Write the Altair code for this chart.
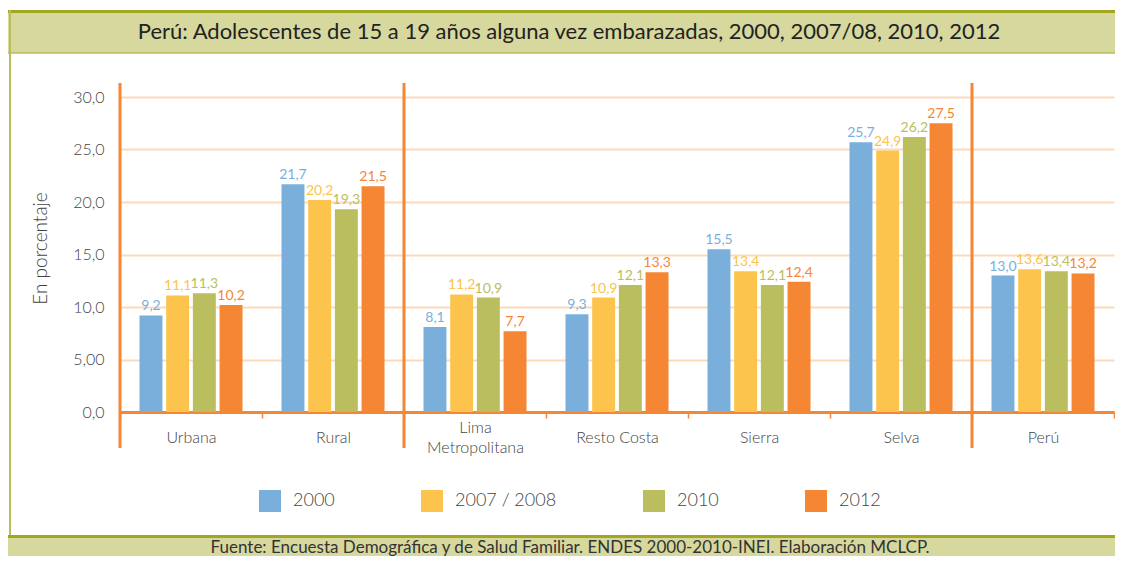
import altair as alt
import pandas as pd

regions = ["Urbana", "Rural", "Lima Metropolitana", "Resto Costa", "Sierra", "Selva", "Perú"]
years = ["2000", "2007 / 2008", "2010", "2012"]
v2000 = [9.2, 21.7, 8.1, 9.3, 15.5, 25.7, 13.0]
v2007 = [11.1, 20.2, 11.2, 10.9, 13.4, 24.9, 13.6]
v2010 = [11.3, 19.3, 10.9, 12.1, 12.1, 26.2, 13.4]
v2012 = [10.2, 21.5, 7.7, 13.3, 12.4, 27.5, 13.2]
colors = ["#7aafdc", "#fcc44d", "#bbbe5f", "#f58634"]
separators = ["Urbana", "Lima Metropolitana", "Perú"]
y_ticks = [0, 5, 10, 15, 20, 25, 30]
title_text = "Perú: Adolescentes de 15 a 19 años alguna vez embarazadas, 2000, 2007/08, 2010, 2012"
source_text = "Fuente: Encuesta Demográfica y de Salud Familiar. ENDES 2000-2010-INEI. Elaboración MCLCP."

rows = []
for yr, vals in zip(years, [v2000, v2007, v2010, v2012]):
    for r, v in zip(regions, vals):
        rows.append({"region": r, "year": yr, "value": v,
                     "label": f"{v:.1f}".replace(".", ",")})
df = pd.DataFrame(rows)

ORANGE = "#f58634"
OLIVE_DARK = "#a3a71f"
OLIVE_FILL = "#d6d89e"
TXT = "#444444"

xscale = alt.Scale(domain=regions, paddingInner=0, paddingOuter=0)
yscale = alt.Scale(domain=[0, 30], nice=False)
cscale = alt.Scale(domain=years, range=colors)
offscale = alt.Scale(paddingInner=0.14, paddingOuter=0.73)

x_axis = alt.Axis(
    title=None, tickBand="extent", ticks=True, tickColor=ORANGE, tickWidth=1.5, tickSize=6,
    domainColor=ORANGE, domainWidth=3, labelAngle=0, labelFontSize=16, labelColor=TXT,
    labelFontWeight=300, labelBaseline="middle", labelLineHeight=20,
    labelPadding=alt.condition("datum.value == 'Lima Metropolitana'", alt.value(9), alt.value(19)),
    labelExpr="datum.value == 'Lima Metropolitana' ? ['Lima', 'Metropolitana'] : datum.value",
)
y_axis = alt.Axis(
    values=y_ticks, grid=True, gridColor="#fdd9bb", gridWidth=2, domain=False, ticks=False,
    labelExpr="datum.value == 5 ? '5,00' : replace(format(datum.value, '.1f'), '.', ',')",
    labelPadding=16, labelFontSize=16, labelColor=TXT, labelFontWeight=300,
    title="En porcentaje", titleFontSize=19, titleFontWeight=300, titleColor=TXT,
    titleAngle=-90, titleAlign="center", titleBaseline="middle", titleX=-80, titleY=151,
)
legend = alt.Legend(
    orient="none", legendX=139, legendY=393, direction="horizontal", title=None,
    symbolType="square", symbolSize=484, symbolStrokeWidth=0, symbolOpacity=1,
    labelFontSize=18, labelColor=TXT, labelFontWeight=300, labelOffset=12,
    columnPadding=86, padding=0,
)

base = alt.Chart(df)
bars = base.mark_bar().encode(
    x=alt.X("region:N", scale=xscale, axis=x_axis),
    xOffset=alt.XOffset("year:N", scale=offscale, sort=years),
    y=alt.Y("value:Q", scale=yscale, axis=y_axis),
    color=alt.Color("year:N", scale=cscale, legend=legend),
)
labels = base.mark_text(baseline="bottom", dy=-2, fontSize=14, fontWeight="normal").encode(
    x=alt.X("region:N", scale=xscale, axis=x_axis),
    xOffset=alt.XOffset("year:N", scale=offscale, sort=years),
    y=alt.Y("value:Q", scale=yscale, axis=y_axis),
    text="label:N",
    color=alt.Color("year:N", scale=cscale, legend=legend),
)
seps = alt.Chart(pd.DataFrame({"region": separators})).mark_rule(
    color=ORANGE, strokeWidth=3).encode(
    x=alt.X("region:N", scale=xscale, bandPosition=0, axis=x_axis),
    y=alt.value(-14), y2=alt.value(351),
)

one = pd.DataFrame({"t": [title_text], "s": [source_text]})
deco = alt.Chart(one)
title_fill = deco.mark_rect(color=OLIVE_FILL).encode(
    x=alt.value(-112), x2=alt.value(995), y=alt.value(-86), y2=alt.value(-44))
title_top = deco.mark_rect(color=OLIVE_DARK).encode(
    x=alt.value(-112), x2=alt.value(995), y=alt.value(-87), y2=alt.value(-84))
title_bottom = deco.mark_rule(color="#b9bd5a", strokeWidth=1.5).encode(
    x=alt.value(-112), x2=alt.value(995), y=alt.value(-44))
left_border = deco.mark_rule(color="#b9bd5a", strokeWidth=2).encode(
    x=alt.value(-110), y=alt.value(-87), y2=alt.value(459))
title_txt = deco.mark_text(fontSize=22, color="#222222", baseline="middle").encode(
    text="t:N", x=alt.value(449), y=alt.value(-65))
foot_fill = deco.mark_rect(color=OLIVE_FILL).encode(
    x=alt.value(-112), x2=alt.value(995), y=alt.value(440), y2=alt.value(459))
foot_top = deco.mark_rect(color=OLIVE_DARK).encode(
    x=alt.value(-112), x2=alt.value(995), y=alt.value(438), y2=alt.value(441))
foot_txt = deco.mark_text(fontSize=17, color="#333333", baseline="middle").encode(
    text="s:N", x=alt.value(450), y=alt.value(451))

chart = alt.layer(
    bars, labels, seps,
    title_fill, title_top, title_bottom, left_border, foot_fill, foot_top,
    title_txt, foot_txt,
).properties(
    width=994, height=315,
    padding={"left": 112, "top": 89, "right": 1, "bottom": 144},
    autosize=alt.AutoSizeParams(type="none"),
).configure(font="Lato", background="white").configure_view(stroke=None)

chart.save("out.html", embed_options={"renderer": "svg", "actions": False})
